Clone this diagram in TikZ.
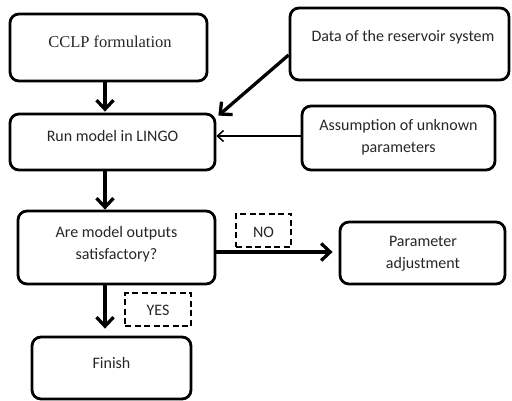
\documentclass[tikz,border=0pt]{standalone}
\usepackage{fontspec}
\setmainfont{Carlito}
\newfontfamily\seriffont{Liberation Serif}
\usetikzlibrary{arrows.meta,calc}
\begin{document}
\begin{tikzpicture}[x=1pt,y=-1pt,
  box/.style={draw, line width=2.8pt, rounded corners=9pt, inner sep=0pt},
  dbox/.style={draw, line width=2.5pt, dash pattern=on 6pt off 3.5pt, inner sep=0pt},
  txt/.style={font=\fontsize{16}{22}\selectfont, align=center, inner sep=0pt, text=black!85},
  bigarrow/.style={line width=3.3pt, -{Straight Barb[length=9pt,width=17pt,line width=3.3pt]}},
  thinarrow/.style={line width=1.5pt, -{Straight Barb[length=6pt,width=11pt,line width=1.5pt]}}]
\useasboundingbox (0,0) rectangle (512,401);
% boxes
\node[box, minimum width=197pt, minimum height=67pt] (b1) at (108.5,47.5) {};
\node[txt, font=\seriffont\fontsize{16.5}{22}\selectfont] (t1) at (110,42) {CCLP formulation};
\node[box, minimum width=219pt, minimum height=72pt] (b2) at (399.5,44) {};
\node[txt] (t2) at (403,37) {Data of the reservoir system};
\node[box, minimum width=205pt, minimum height=56pt] (b3) at (112.5,142) {};
\node[txt] (t3) at (112.5,136) {Run model in LINGO};
\node[box, minimum width=193pt, minimum height=64pt] (b4) at (398.5,138) {};
\node[txt] (t4) at (398.5,137) {Assumption of unknown\\parameters};
\node[box, minimum width=197pt, minimum height=73pt] (b5) at (116.5,247.5) {};
\node[txt] (t5) at (116.5,244.5) {Are model outputs\\satisfactory?};
\node[dbox, minimum width=55pt, minimum height=33pt] (no) at (263.5,230.5) {};
\node[txt] (tno) at (263.5,232.5) {NO};
\node[box, minimum width=165pt, minimum height=62pt] (b6) at (422.5,253) {};
\node[txt] (t6) at (423,253.5) {Parameter\\adjustment};
\node[dbox, minimum width=66pt, minimum height=33pt] (yes) at (158,309.5) {};
\node[txt] (tyes) at (158,310.5) {YES};
\node[box, minimum width=159pt, minimum height=62pt] (b7) at (111.5,368) {};
\node[txt] (t7) at (111.5,363) {Finish};
% helper coordinates
\coordinate (vx) at (105,0);
\coordinate (hy1) at (0,136);
\coordinate (hy2) at (0,252);
% connectors
\draw[bigarrow, shorten >=1pt] (b1.south -| vx) -- (b3.north -| vx);
\draw[bigarrow] ($(b2.west)+(0,11)$) -- ($(b3.north east)+(2,3)$);
\draw[thinarrow] (b4.west |- hy1) -- (b3.east |- hy1);
\draw[bigarrow] (b3.south -| vx) -- (b5.north -| vx);
\draw[bigarrow, shorten >=6pt] (b5.east |- hy2) -- (b6.west |- hy2);
\draw[bigarrow, shorten >=7pt] (b5.south -| vx) -- (b7.north -| vx);
\end{tikzpicture}
\end{document}
